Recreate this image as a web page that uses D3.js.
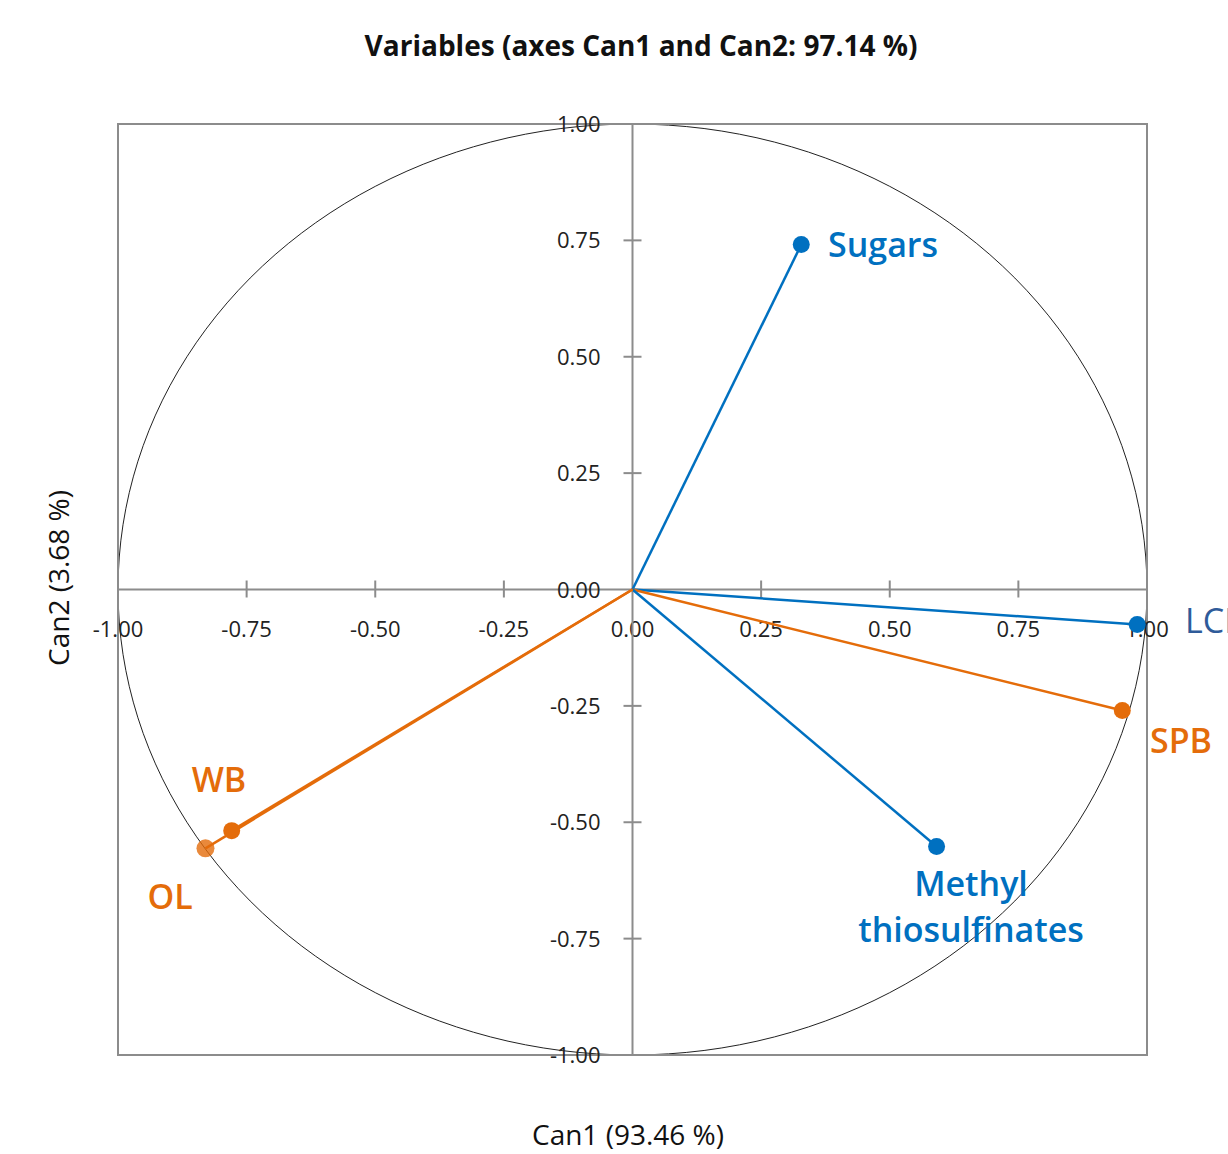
<!DOCTYPE html>
<html>
<head>
<meta charset="utf-8">
<script src="https://cdn.jsdelivr.net/npm/d3@7"></script>
<style>
  body { margin: 0; background: #fff; }
  svg { font-family: "Open Sans", Lato, sans-serif; }
</style>
</head>
<body>
<svg id="chart" width="1228" height="1154"></svg>
<script>
// variables on the correlation circle
const names = ['Sugars', 'LCI', 'SPB', 'Methyl thiosulfinates', 'WB', 'OL'];
const can1 = [0.328, 0.981, 0.952, 0.591, -0.779, -0.830];
const can2 = [0.741, -0.075, -0.260, -0.552, -0.518, -0.556];
const groups = ['blue', 'blue', 'orange', 'blue', 'orange', 'orange'];
const ticks = [-1, -0.75, -0.5, -0.25, 0, 0.25, 0.5, 0.75, 1];

const svg = d3.select('#chart');
const colors = { blue: '#0070c0', orange: '#e46c0a' };
const fmt = d => d3.format('.2f')(d).replace('\u2212', '-');

const x = d3.scaleLinear().domain([-1, 1]).range([118, 1147]);
const y = d3.scaleLinear().domain([-1, 1]).range([1055, 124]);

// correlation circle
const circle = d3.range(0, 361, 2).map(a => [Math.cos(a * Math.PI / 180), Math.sin(a * Math.PI / 180)]);
svg.append('path')
    .datum(circle)
    .attr('fill', 'none')
    .attr('stroke', '#222')
    .attr('stroke-width', 1)
    .attr('d', d3.line().x(d => x(d[0])).y(d => y(d[1])));

// frame
svg.append('rect')
    .attr('x', x(-1)).attr('y', y(1))
    .attr('width', x(1) - x(-1)).attr('height', y(-1) - y(1))
    .attr('fill', 'none').attr('stroke', '#8c8c8c').attr('stroke-width', 2);

// axes through origin
const xAxis = svg.append('g').attr('transform', `translate(0,${y(0)})`);
xAxis.append('line').attr('x1', x(-1)).attr('x2', x(1))
    .attr('stroke', '#8c8c8c').attr('stroke-width', 2);
xAxis.selectAll('.tk').data(ticks.filter(t => t !== 0 && Math.abs(t) !== 1)).join('line')
    .attr('x1', d => x(d)).attr('x2', d => x(d)).attr('y1', -9).attr('y2', 8)
    .attr('stroke', '#8c8c8c').attr('stroke-width', 2);
xAxis.selectAll('text').data(ticks).join('text')
    .attr('x', d => x(d)).attr('y', 47)
    .attr('text-anchor', 'middle').attr('font-size', 22).attr('fill', '#222')
    .text(fmt);

const yAxis = svg.append('g').attr('transform', `translate(${x(0)},0)`);
yAxis.append('line').attr('y1', y(1)).attr('y2', y(-1))
    .attr('stroke', '#8c8c8c').attr('stroke-width', 2);
yAxis.selectAll('.tk').data(ticks.filter(t => t !== 0 && Math.abs(t) !== 1)).join('line')
    .attr('y1', d => y(d)).attr('y2', d => y(d)).attr('x1', -9).attr('x2', 9)
    .attr('stroke', '#8c8c8c').attr('stroke-width', 2);
yAxis.selectAll('text').data(ticks).join('text')
    .attr('x', -32).attr('y', d => y(d) + 8)
    .attr('text-anchor', 'end').attr('font-size', 22).attr('fill', '#222')
    .text(fmt);

// vectors
const idx = d3.range(names.length);
svg.selectAll('.vec').data(idx).join('line')
    .attr('x1', x(0)).attr('y1', y(0))
    .attr('x2', i => x(can1[i])).attr('y2', i => y(can2[i]))
    .attr('stroke', i => colors[groups[i]]).attr('stroke-width', 2.5);
svg.selectAll('.pt').data(idx).join('circle')
    .attr('cx', i => x(can1[i])).attr('cy', i => y(can2[i]))
    .attr('r', i => names[i] === 'OL' ? 9 : 8.5)
    .attr('fill', i => colors[groups[i]])
    .attr('fill-opacity', i => names[i] === 'OL' ? 0.8 : 1);

// point labels
const labelPos = {
  'Sugars': [828, 257, 'start'],
  'LCI': [1185, 633, 'start'],
  'SPB': [1150, 753, 'start'],
  'WB': [219, 792, 'middle'],
  'OL': [170, 909, 'middle']
};
svg.selectAll('.lab').data(idx.filter(i => labelPos[names[i]])).join('text')
    .attr('x', i => labelPos[names[i]][0]).attr('y', i => labelPos[names[i]][1])
    .attr('text-anchor', i => labelPos[names[i]][2])
    .attr('font-size', 34)
    .attr('font-weight', i => names[i] === 'LCI' ? 400 : 600)
    .attr('fill', i => names[i] === 'LCI' ? '#2f5b99' : colors[groups[i]])
    .text(i => names[i]);
const mt = svg.append('text')
    .attr('text-anchor', 'middle').attr('font-size', 34).attr('font-weight', 600)
    .attr('fill', colors.blue);
mt.append('tspan').attr('x', 971).attr('y', 896).text('Methyl');
mt.append('tspan').attr('x', 971).attr('y', 942).text('thiosulfinates');

// titles
svg.append('text').attr('x', 641).attr('y', 56).attr('text-anchor', 'middle')
    .attr('font-size', 28).attr('font-weight', 700).attr('fill', '#111')
    .text('Variables (axes Can1 and Can2: 97.14 %)');
svg.append('text').attr('x', 628).attr('y', 1145).attr('text-anchor', 'middle')
    .attr('font-size', 28).attr('fill', '#111')
    .text('Can1 (93.46 %)');
svg.append('text').attr('transform', 'translate(69,578) rotate(-90)')
    .attr('text-anchor', 'middle').attr('font-size', 28).attr('fill', '#111')
    .text('Can2 (3.68 %)');
</script>
</body>
</html>
